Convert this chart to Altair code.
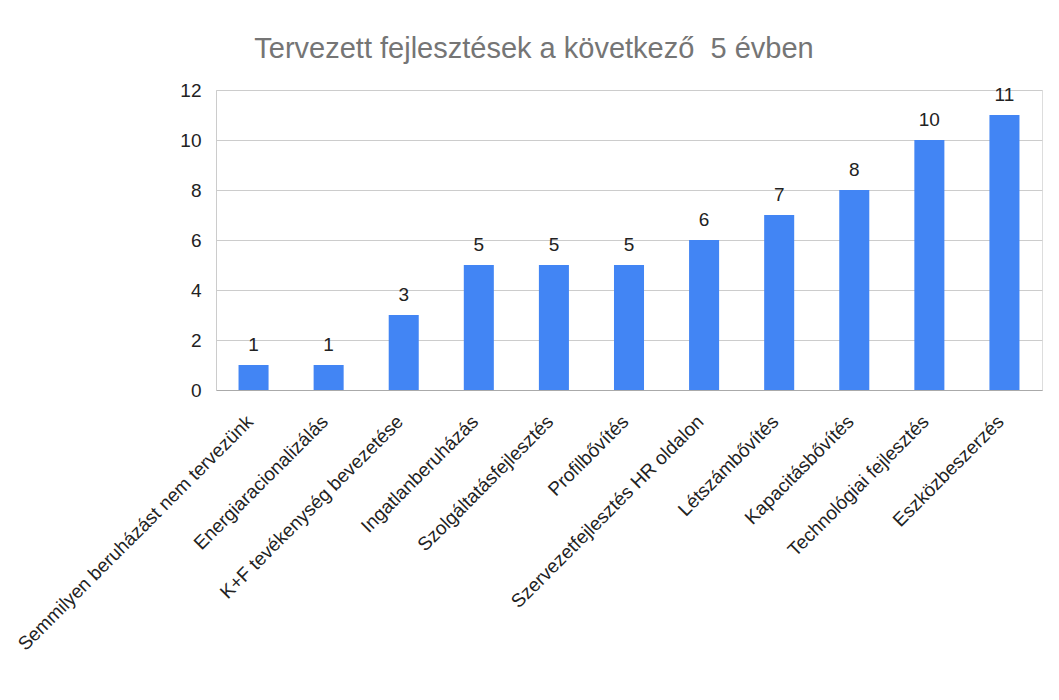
import altair as alt
import pandas as pd

categories = [
    "Semmilyen beruházást nem tervezünk",
    "Energiaracionalizálás",
    "K+F tevékenység bevezetése",
    "Ingatlanberuházás",
    "Szolgáltatásfejlesztés",
    "Profilbővítés",
    "Szervezetfejlesztés HR oldalon",
    "Létszámbővítés",
    "Kapacitásbővítés",
    "Technológiai fejlesztés",
    "Eszközbeszerzés",
]
values = [1, 1, 3, 5, 5, 5, 6, 7, 8, 10, 11]
y_ticks = [0, 2, 4, 6, 8, 10, 12]

df = pd.DataFrame({"cat": categories, "val": values})
FONT = "Liberation Sans"

x_enc = alt.X(
    "cat:N",
    sort=categories,
    scale=alt.Scale(paddingInner=0.6, paddingOuter=0.3),
    axis=alt.Axis(
        title=None,
        labelAngle=-45,
        labelFontSize=19,
        labelFont=FONT,
        labelColor="#222222",
        labelPadding=22,
        labelOffset=-10,
        ticks=False,
        domain=True,
        domainColor="#aaaaaa",
        domainWidth=1,
        grid=False,
        labelLimit=0,
        labelOverlap=False,
    ),
)
y_enc = alt.Y(
    "val:Q",
    scale=alt.Scale(domain=[0, 12], nice=False),
    axis=alt.Axis(
        title=None,
        values=y_ticks,
        labelFontSize=19,
        labelFont=FONT,
        labelColor="#222222",
        labelPadding=15,
        ticks=False,
        domain=True,
        domainColor="#cccccc",
        grid=True,
        gridColor="#cccccc",
        gridWidth=1,
    ),
)

bars = alt.Chart(df).mark_bar(color="#4285F4").encode(x=x_enc, y=y_enc)
labels = alt.Chart(df).mark_text(
    dy=-14, baseline="alphabetic", fontSize=19, font=FONT, color="#222222"
).encode(x=alt.X("cat:N", sort=categories), y="val:Q", text="val:Q")

chart = (
    alt.layer(bars, labels)
    .properties(
        width=826,
        height=300,
        autosize=alt.AutoSizeParams(type="none"),
        padding={"left": 208, "top": 82, "right": 9, "bottom": 300},
        title=alt.TitleParams(
            "Tervezett fejlesztések a következő \u00a05 évben",
            fontSize=29,
            font=FONT,
            fontWeight="normal",
            color="#757575",
            anchor="middle",
            dx=-95,
            dy=36,
            offset=30,
            baseline="alphabetic",
        ),
    )
    .configure_view(stroke=None)
    .configure(background="white")
)

chart.save("out.html", embed_options={"renderer": "svg", "actions": False})
